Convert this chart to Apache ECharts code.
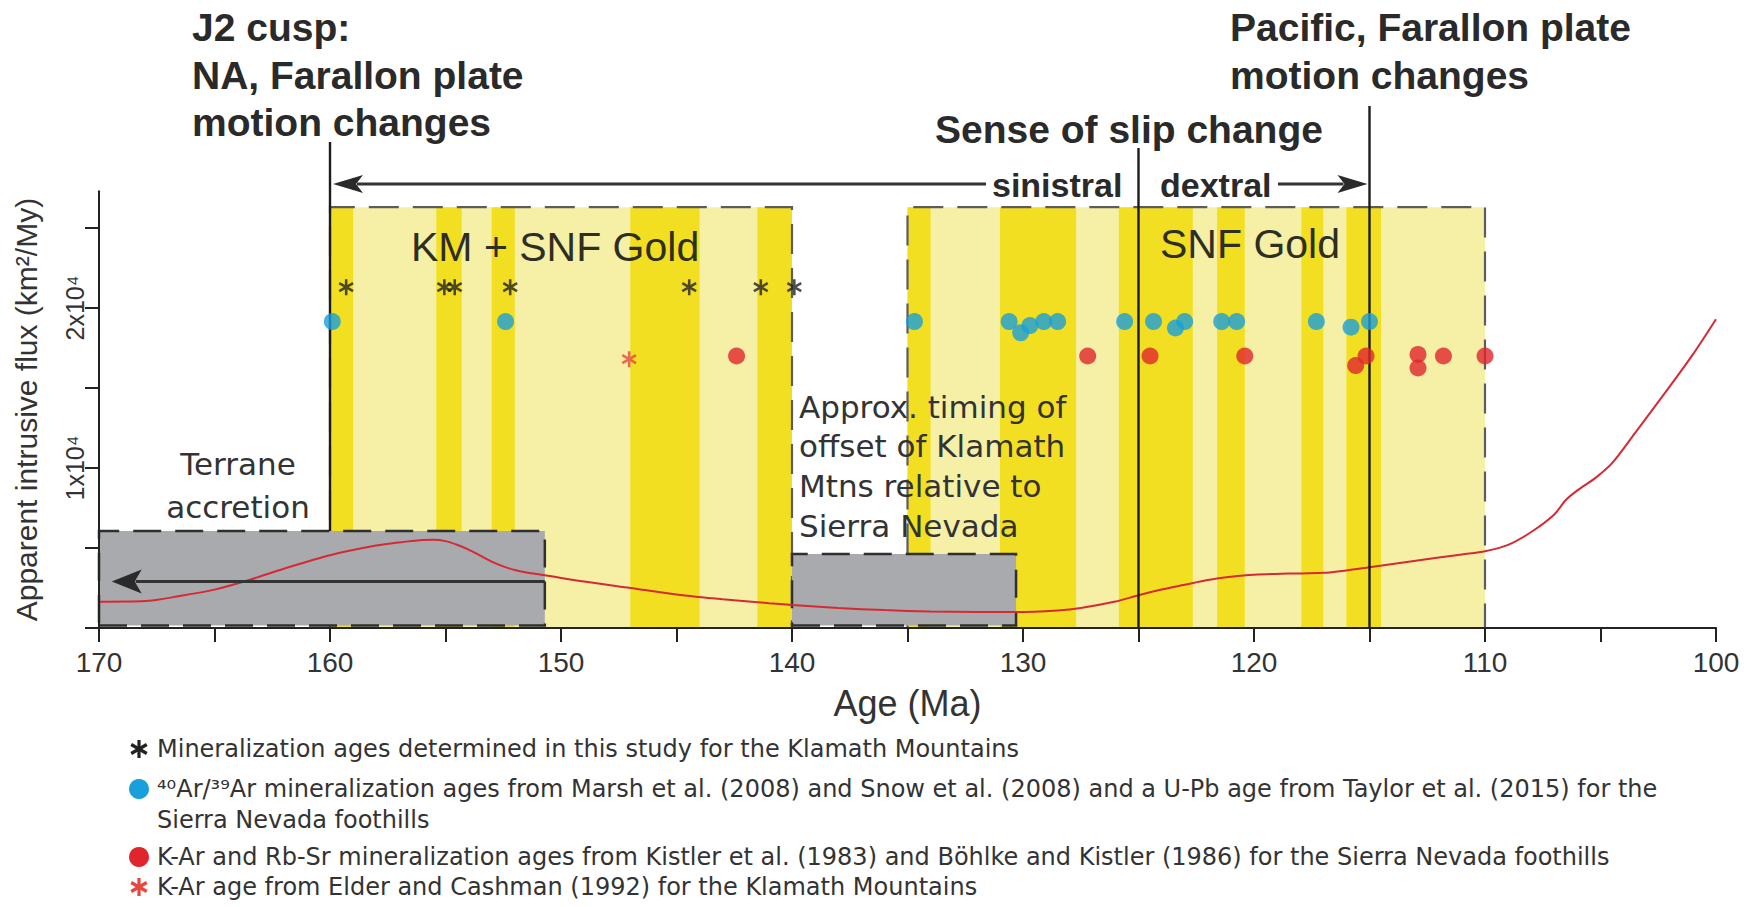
<!DOCTYPE html>
<html>
<head>
<meta charset="utf-8">
<title>Mineralization ages and apparent intrusive flux</title>
<script src="https://cdn.jsdelivr.net/npm/echarts@6/dist/echarts.min.js"></script>
<style>
html,body{margin:0;padding:0;background:#ffffff;}
#chart{width:1744px;height:907px;}
</style>
</head>
<body>
<div id="chart"></div>
<script>
// ---------------- data ----------------
const xTickValues = [100,105,110,115,120,125,130,135,140,145,150,155,160,165,170];
const xLabelValues = [100,110,120,130,140,150,160,170];
const yTickValues = [0,0.5,1,1.5,2,2.5];
const yLabelValues = [1,2];

// apparent intrusive flux curve (x10^4 km2/My) vs age (Ma)
const fluxAges   = [170,168,166.5,165,163.5,162,160,158,157,156,155.5,155,154.5,154,153.5,153,152.5,152,151.5,150.7,149,147,145,143,141,140,138,136,134,132,130.3,128.5,127.5,126,125,124,123,122,121,120,118.5,117,116,115,113,111,110,109,108,107,106.5,106,105.2,104.5,103.5,102,101,100];
const fluxValues = [0.164,0.168,0.20,0.24,0.30,0.37,0.455,0.515,0.535,0.55,0.552,0.543,0.52,0.49,0.452,0.415,0.385,0.362,0.347,0.33,0.29,0.25,0.21,0.18,0.155,0.144,0.125,0.112,0.103,0.10,0.10,0.11,0.125,0.165,0.205,0.24,0.27,0.30,0.32,0.333,0.34,0.345,0.36,0.38,0.42,0.46,0.48,0.52,0.60,0.71,0.80,0.86,0.94,1.03,1.22,1.51,1.71,1.93];

// mineralization ages (this study, Klamath Mountains)
const studyAges   = [159.3,155.05,154.6,152.2,144.45,141.35,139.9];
const studyLevels = [2.13,2.13,2.13,2.13,2.13,2.13,2.13];
// 40Ar/39Ar ages
const arArAges   = [159.9,152.4,134.7,130.6,130.1,129.7,129.1,128.5,125.6,124.35,123.4,123.0,121.4,120.75,117.3,115.8,115.0];
const arArLevels = [1.915,1.915,1.915,1.915,1.845,1.89,1.915,1.915,1.915,1.915,1.875,1.915,1.915,1.915,1.915,1.88,1.915];
// K-Ar and Rb-Sr ages
const kArAges   = [142.4,127.2,124.5,120.4,115.6,115.15,112.9,112.9,111.8,110.0];
const kArLevels = [1.70,1.70,1.70,1.70,1.64,1.70,1.71,1.625,1.70,1.70];
// K-Ar age, Elder and Cashman
const elderAges   = [147.05];
const elderLevels = [1.68];

// gold windows (start, end ages) and darker sub-bands
const goldBoxes = [[160,140],[135,110]];
const goldTop = 2.63;
const goldBands = [[160,159],[155.4,154.3],[153,152],[147,144],[141.5,140],[135,134],[131,127.7],[125.85,122.65],[121.6,120.4],[117.95,117.0],[116.0,114.5]];
// grey boxes: [start age, end age, top]
const greyBoxes = [[170,150.7,0.606],[140,130.3,0.4625]];
const greyBottom = 0.015;
// event lines
const j2Age = 160, slipAge = 125, pacificAge = 115;
const terraneArrowLevel = 0.29, terraneArrowTipAge = 169.45;

const legendNames = [
  'Mineralization ages determined in this study for the Klamath Mountains',
  '\u2074\u2070Ar/\u00b3\u2079Ar mineralization ages from Marsh et al. (2008) and Snow et al. (2008) and a U-Pb age from Taylor et al. (2015) for the',
  'K-Ar and Rb-Sr mineralization ages from Kistler et al. (1983) and B\u00f6hlke and Kistler (1986) for the Sierra Nevada foothills',
  'K-Ar age from Elder and Cashman (1992) for the Klamath Mountains'
];
const legendContinuation = 'Sierra Nevada foothills';

// ---------------- styles ----------------
const SANS = '"Liberation Sans", Arial, Helvetica, sans-serif';
const WIDE = '"DejaVu Sans", Verdana, sans-serif';
const LIGHT = '#f6f0a6';
const DARK = '#f3df22';
const GREY = '#a8aaad';
const INK = '#2a2a2a';
const ASTERISK = 'path://M-1.6,-10L1.6,-10L1.6,10L-1.6,10Z M7.86,-6.386L9.46,-3.614L-7.86,6.386L-9.46,3.614Z M9.46,3.614L7.86,6.386L-9.46,-3.614L-7.86,-6.386Z';

const zip = (a, b) => a.map((v, i) => [v, b[i]]);
const area = (a0, a1, v0, v1) => [{xAxis: a0, yAxis: v0}, {xAxis: a1, yAxis: v1}];

const chart = echarts.init(document.getElementById('chart'), null, {renderer: 'svg'});

const option = {
  animation: false,
  backgroundColor: '#ffffff',
  grid: {left: 99, right: 28, top: 191.2, bottom: 279},
  xAxis: {
    type: 'value', min: 100, max: 170, interval: 5, inverse: true, z: 8,
    axisLine: {lineStyle: {color: '#222', width: 2}},
    axisTick: {length: 14, lineStyle: {color: '#222', width: 2}, customValues: xTickValues},
    axisLabel: {customValues: xLabelValues, margin: 20, fontSize: 28, color: '#333', fontFamily: SANS,
      formatter: v => (v % 10 === 0 ? String(v) : '')},
    splitLine: {show: false},
    name: 'Age (Ma)', nameLocation: 'middle', nameGap: 57,
    nameTextStyle: {fontSize: 36, color: '#333', fontFamily: SANS}
  },
  yAxis: {
    type: 'value', min: 0, max: 2.73, interval: 0.5, z: 8,
    axisLine: {show: true, lineStyle: {color: '#222', width: 2}},
    axisTick: {show: true, length: 14, lineStyle: {color: '#222', width: 2}, customValues: yTickValues},
    axisLabel: {customValues: yLabelValues, rotate: 90, margin: 12, fontSize: 25, color: '#333', fontFamily: SANS,
      formatter: v => (v === 1 || v === 2 ? v + 'x10\u2074' : '')},
    splitLine: {show: false},
    name: 'Apparent intrusive flux (km\u00b2/My)', nameLocation: 'middle', nameGap: 58,
    nameTextStyle: {fontSize: 30, color: '#333', fontFamily: SANS}
  },
  series: [
    {name: 'goldFill', type: 'line', data: [], silent: true, z: 1,
      markArea: {silent: true, z: 1, label: {show: false}, itemStyle: {color: LIGHT},
        data: goldBoxes.map(b => area(b[0], b[1], 0, goldTop))}},
    {name: 'goldBands', type: 'line', data: [], silent: true, z: 1.5,
      markArea: {silent: true, z: 1.5, label: {show: false}, itemStyle: {color: DARK},
        data: goldBands.map(b => area(b[0], b[1], 0, goldTop))}},
    {name: 'goldBorder', type: 'line', data: [], silent: true, z: 2,
      markArea: {silent: true, z: 2, label: {show: false},
        itemStyle: {color: 'rgba(0,0,0,0)', borderColor: '#5c5c5c', borderWidth: 2.2, borderType: [30, 14]},
        data: goldBoxes.map(b => area(b[0], b[1], 0, goldTop))}},
    {name: 'greyBoxes', type: 'line', data: [], silent: true, z: 3,
      markArea: {silent: true, z: 3, label: {show: false},
        itemStyle: {color: GREY, borderColor: '#2f2f2f', borderWidth: 2.5, borderType: [28, 14]},
        data: greyBoxes.map(b => area(b[0], b[1], greyBottom, b[2]))}},
    {name: 'flux', type: 'line', z: 4, silent: true, smooth: 0.3, symbol: 'none',
      lineStyle: {color: '#d52a33', width: 2}, data: zip(fluxAges, fluxValues)},
    {name: legendNames[0], type: 'scatter', z: 6, symbol: ASTERISK, symbolKeepAspect: true, symbolSize: 16,
      itemStyle: {color: '#222'}, data: zip(studyAges, studyLevels)},
    {name: legendNames[1], type: 'scatter', z: 6, symbol: 'circle', symbolSize: 17,
      itemStyle: {color: '#199fdb'}, data: zip(arArAges, arArLevels)},
    {name: legendNames[2], type: 'scatter', z: 6, symbol: 'circle', symbolSize: 17,
      itemStyle: {color: '#e0252d'}, data: zip(kArAges, kArLevels)},
    {name: legendNames[3], type: 'scatter', z: 6, symbol: ASTERISK, symbolKeepAspect: true, symbolSize: 16,
      itemStyle: {color: '#e8473d'}, data: zip(elderAges, elderLevels)}
  ]
};
chart.setOption(option);

// ---------------- annotations positioned via the chart's own scales ----------------
const P = (age, v) => chart.convertToPixel({gridIndex: 0}, [age, v]);
const axisY = P(170, 0)[1];

function txt(str, x, y, size, o) {
  o = o || {};
  const al = o.align || 'left';
  return {type: 'text', z: 20, x: x, y: y, silent: true,
    style: {text: str, fontSize: size, fontFamily: o.family || SANS, fontWeight: o.weight || 'normal',
      fill: o.color || INK, align: al, textAlign: al, verticalAlign: 'middle', textVerticalAlign: 'middle'}};
}
function vline(x, y1, y2, w) {
  return {type: 'line', z: 5, silent: true, shape: {x1: x, y1: y1, x2: x, y2: y2},
    style: {stroke: '#1c1c1c', lineWidth: w || 2.4}};
}
function arrow(xTail, xTip, y, len, half) {
  const d = xTip < xTail ? 1 : -1;
  return [
    {type: 'line', z: 5, silent: true, shape: {x1: xTail, y1: y, x2: xTip + d * (len - 6), y2: y},
      style: {stroke: '#333', lineWidth: 3}},
    {type: 'polygon', z: 5, silent: true,
      shape: {points: [[xTip, y], [xTip + d * len, y - half], [xTip + d * (len - 7), y], [xTip + d * len, y + half]]},
      style: {fill: '#2a2a2a'}}
  ];
}
function asterisk(cx, cy, L, w, color) {
  return [90, 30, 150].map(deg => {
    const a = deg * Math.PI / 180, c = Math.cos(a), s = Math.sin(a);
    const pts = [[-L, -w], [L, -w], [L, w], [-L, w]].map(p => [cx + p[0] * c - p[1] * s, cy + p[0] * s + p[1] * c]);
    return {type: 'polygon', z: 20, silent: true, shape: {points: pts}, style: {fill: color}};
  });
}

const xJ2 = P(j2Age, 0)[0], xSlip = P(slipAge, 0)[0], xPac = P(pacificAge, 0)[0];
const greyTop1 = P(j2Age, greyBoxes[0][2])[1];
const arrowY = 184;

const g = [];
g.push(vline(xJ2, 142, greyTop1));
g.push(vline(xSlip, 148, axisY));
g.push(vline(xPac, 106, axisY));
arrow(986, xJ2 + 3, arrowY, 30, 9).forEach(e => g.push(e));
arrow(1278, xPac - 2, arrowY, 30, 9).forEach(e => g.push(e));
const tY = P(170, terraneArrowLevel)[1];
arrow(P(greyBoxes[0][1], 0)[0], P(terraneArrowTipAge, 0)[0], tY, 30, 12).forEach(e => g.push(e));

// header texts
g.push(txt('J2 cusp:', 192, 27, 39, {weight: 'bold'}));
g.push(txt('NA, Farallon plate', 192, 75, 39, {weight: 'bold'}));
g.push(txt('motion changes', 192, 122, 39, {weight: 'bold'}));
g.push(txt('Pacific, Farallon plate', 1230, 27, 39, {weight: 'bold'}));
g.push(txt('motion changes', 1230, 75, 39, {weight: 'bold'}));
g.push(txt('Sense of slip change', 935, 129, 39, {weight: 'bold'}));
g.push(txt('sinistral', 992, 185, 34, {weight: 'bold'}));
g.push(txt('dextral', 1160, 185, 34, {weight: 'bold'}));
// in-plot texts
g.push(txt('KM + SNF Gold', 411, 247, 41, {color: '#2e2e22'}));
g.push(txt('SNF Gold', 1160, 244, 41, {color: '#2e2e22'}));
g.push(txt('Terrane', 238, 464, 31, {family: WIDE, align: 'center', color: '#333'}));
g.push(txt('accretion', 238, 507, 31, {family: WIDE, align: 'center', color: '#333'}));
['Approx. timing of', 'offset of Klamath', 'Mtns relative to', 'Sierra Nevada'].forEach((s, i) =>
  g.push(txt(s, 799, [407, 446, 486, 526][i], 31, {family: WIDE, color: '#333'})));

// legend
const LX = 139, LT = 157;
const legendY = [749, 789, 857, 887];
asterisk(LX, legendY[0], 9, 1.6, '#222').forEach(e => g.push(e));
g.push({type: 'circle', z: 20, silent: true, shape: {cx: LX, cy: legendY[1], r: 10}, style: {fill: '#199fdb'}});
g.push({type: 'circle', z: 20, silent: true, shape: {cx: LX, cy: legendY[2], r: 10}, style: {fill: '#e0252d'}});
asterisk(LX, legendY[3], 9, 1.6, '#e8473d').forEach(e => g.push(e));
legendNames.forEach((n, i) => g.push(txt(n, LT, legendY[i], 24, {family: WIDE, color: '#333'})));
g.push(txt(legendContinuation, LT, 820, 24, {family: WIDE, color: '#333'}));

chart.setOption({graphic: {elements: g}});
</script>
</body>
</html>
